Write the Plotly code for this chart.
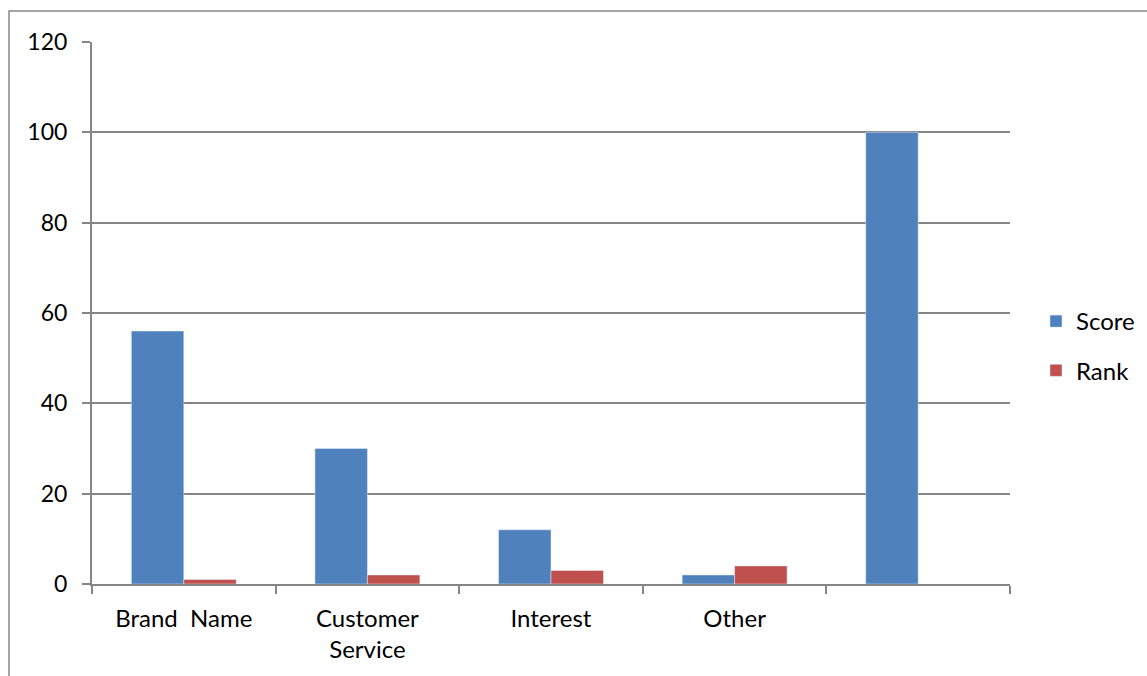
import plotly.graph_objects as go

# Chart data
categories = ["Brand\u00a0 Name", "Customer<br>Service", "Interest", "Other", "\u00a0"]
score = [56, 30, 12, 2, 100]
rank = [1, 2, 3, 4, None]
y_ticks = [0, 20, 40, 60, 80, 100, 120]

W, H = 1147, 676
ML, MR, MT, MB = 92, 137, 42, 92
pw, ph = W - ML - MR, H - MT - MB

FONT = "Lato, 'Open Sans', Arial, sans-serif"
GRAY = "#868686"

fig = go.Figure()
fig.add_trace(go.Bar(name="Score", x=categories, y=score, marker_color="#4F81BD",
                     legendgroup="score"))
fig.add_trace(go.Bar(name="Rank", x=categories, y=rank, marker_color="#C0504D",
                     legendgroup="rank"))

# outer chart frame (runs past the right and bottom of the page)
fig.add_shape(type="rect", xref="paper", yref="paper",
              x0=(9 - ML) / pw, x1=1.3,
              y0=-0.4, y1=(H - MB - 11) / ph,
              line=dict(color=GRAY, width=1.5), fillcolor="rgba(0,0,0,0)", layer="below")

fig.update_layout(
    width=W, height=H,
    margin=dict(l=ML, r=MR, t=MT, b=MB, pad=0, autoexpand=False),
    paper_bgcolor="white", plot_bgcolor="white",
    barmode="group", bargap=1.5 / 3.5, bargroupgap=0,
    font=dict(family=FONT, size=24, color="black"),
    showlegend=True,
    legend=dict(x=(1036 - ML) / pw, y=(H - MB - 346) / ph, xanchor="left", yanchor="middle",
                font=dict(size=24), traceorder="grouped", tracegroupgap=15, itemwidth=30,
                bgcolor="rgba(0,0,0,0)"),
    xaxis=dict(
        type="category", showgrid=False, showline=True, linecolor=GRAY, linewidth=2,
        ticks="outside", tickson="boundaries", ticklen=8, tickcolor=GRAY, tickwidth=2,
        ticklabelstandoff=12, tickfont=dict(size=24),
    ),
    yaxis=dict(
        range=[0, 120], tickvals=y_ticks, showgrid=True, gridcolor=GRAY, gridwidth=2,
        showline=True, linecolor=GRAY, linewidth=2, zeroline=False,
        ticks="outside", ticklen=8, tickcolor=GRAY, tickwidth=2,
        ticklabelstandoff=10, tickfont=dict(size=23),
    ),
)

fig.write_html("out.html")
